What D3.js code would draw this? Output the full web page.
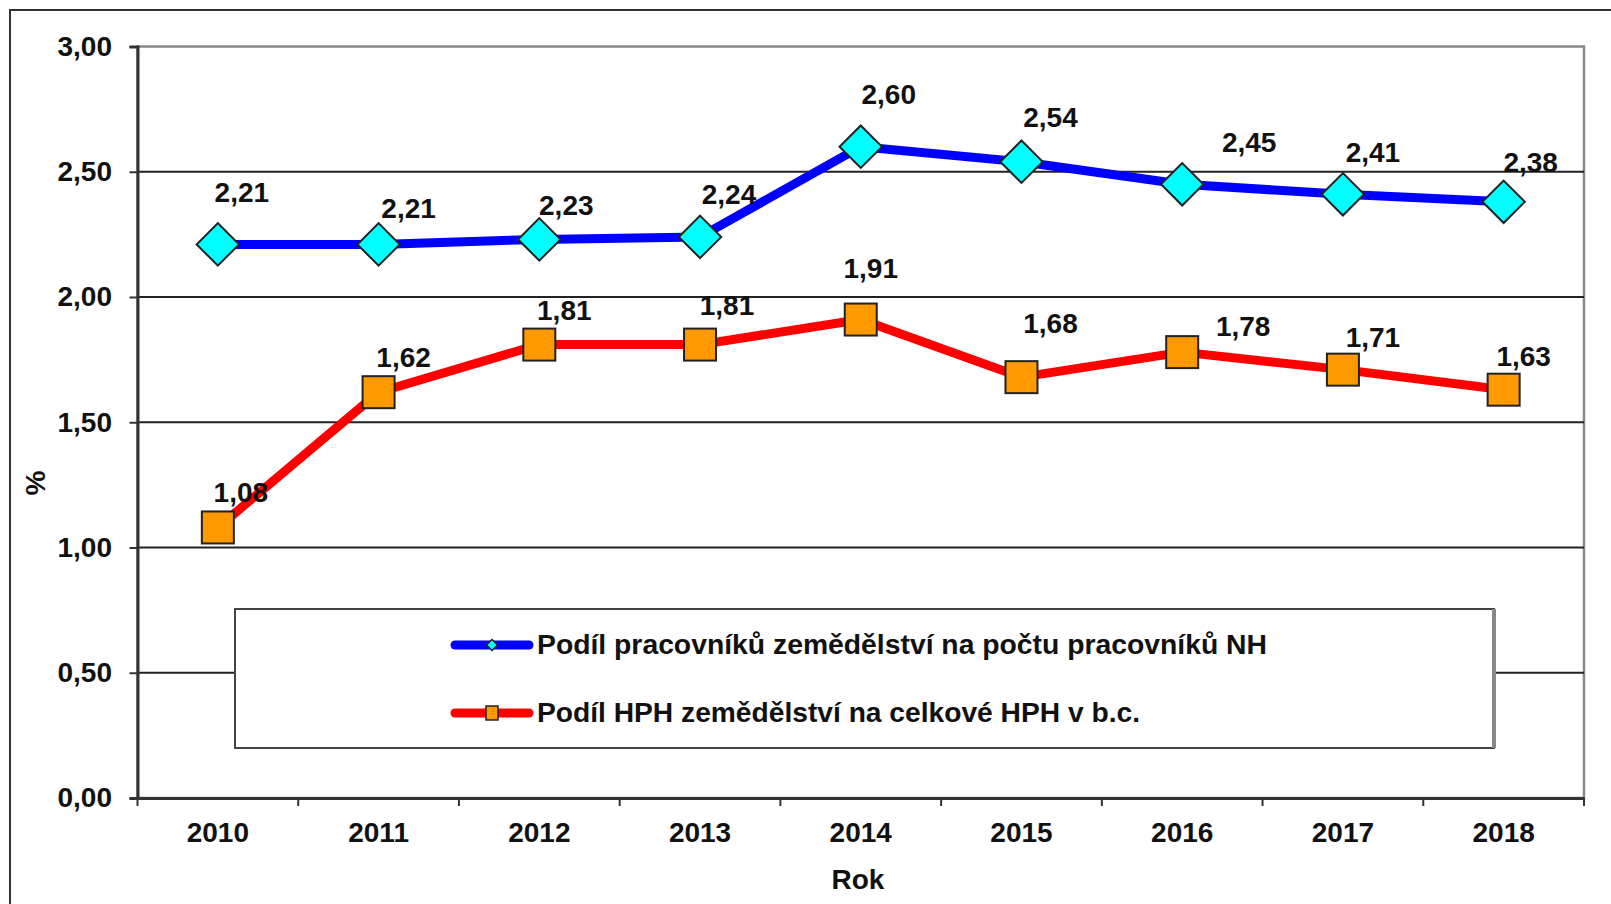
<!DOCTYPE html>
<html><head><meta charset="utf-8">
<script src="https://cdn.jsdelivr.net/npm/d3@7"></script>
<style>body{margin:0;background:#fff}svg{display:block}text{font-family:"Liberation Sans",Arial,sans-serif;font-weight:bold;fill:#111}</style>
</head><body><svg id="c" width="1611" height="904"></svg>
<script>
const years = ["2010","2011","2012","2013","2014","2015","2016","2017","2018"];
const workersShare = [2.21,2.21,2.23,2.24,2.60,2.54,2.45,2.41,2.38];
const gvaShare = [1.08,1.62,1.81,1.81,1.91,1.68,1.78,1.71,1.63];
const yTicks = [0,0.5,1,1.5,2,2.5,3];
const seriesNames = ["Podíl pracovníků zemědělství na počtu pracovníků NH","Podíl HPH zemědělství na celkové HPH v b.c."];
// label offsets relative to markers (layout only)
const blueLabelOff = [[24,-52],[30,-36],[27,-34],[29,-43],[28,-53],[29,-45],[67,-42],[30,-42],[27,-40]];
const redLabelOff = [[23,-35],[25,-35],[25,-35],[27,-40],[10,-52],[29,-54],[61,-26],[30,-33],[20,-34]];
const legendTextLen = [730,603];

const FS = "28px";
const svg = d3.select("#c");
const L=137.5, R=1584, T=46.5, B=798;
const x = d3.scaleBand().domain(years).range([L,R]);
const y = d3.scaleLinear().domain([0,3]).range([B,T]);
const fmt = v => d3.format(".2f")(v).replace(".",",");

// outer frame
svg.append("rect").attr("x",10).attr("y",10).attr("width",1640).attr("height",960)
  .attr("fill","none").attr("stroke","#333").attr("stroke-width",2);

// plot border
svg.append("rect").attr("x",L).attr("y",T).attr("width",R-L).attr("height",B-T)
  .attr("fill","none").attr("stroke","#888").attr("stroke-width",2.5);

// gridlines
svg.append("g").selectAll("line").data(yTicks.filter(d=>d>0&&d<3)).join("line")
  .attr("x1",L).attr("x2",R).attr("y1",d=>y(d)).attr("y2",d=>y(d))
  .attr("stroke","#222").attr("stroke-width",2);

// y axis
const ya = svg.append("g").attr("transform",`translate(${L},0)`)
  .call(d3.axisLeft(y).tickValues(yTicks).tickSize(8).tickPadding(17.5).tickFormat(fmt));
ya.select(".domain").attr("stroke","#333").attr("stroke-width",3);
ya.selectAll(".tick line").attr("stroke","#333").attr("stroke-width",2);
ya.selectAll("text").style("font-size",FS).attr("fill","#111");

// x axis
const xa = svg.append("g").attr("transform",`translate(0,${B})`)
  .call(d3.axisBottom(x).tickSize(0).tickPadding(24.5));
xa.select(".domain").attr("stroke","#333").attr("stroke-width",3);
xa.selectAll("text").style("font-size",FS).attr("fill","#111");
// boundary ticks
xa.append("g").selectAll("line").data(years.map((d,i)=>i).concat([years.length])).join("line")
  .attr("x1",i=>L+i*x.step()).attr("x2",i=>L+i*x.step()).attr("y1",0).attr("y2",8)
  .attr("stroke","#333").attr("stroke-width",2);

// axis titles
svg.append("text").attr("x",858).attr("y",889).attr("text-anchor","middle").style("font-size",FS).text("Rok");
svg.append("text").attr("transform","translate(45,483) rotate(-90)").attr("text-anchor","middle").style("font-size",FS).text("%");

// legend
const lg = svg.append("g");
lg.append("rect").attr("x",235).attr("y",609).attr("width",1494-235).attr("height",748-609)
  .attr("fill","#fff").attr("stroke","#444").attr("stroke-width",2);
lg.append("line").attr("x1",1494).attr("x2",1494).attr("y1",609).attr("y2",748).attr("stroke","#888").attr("stroke-width",4);
const legY=[645,713];
lg.append("line").attr("x1",455).attr("x2",529).attr("y1",legY[0]).attr("y2",legY[0]).attr("stroke","#0000ff").attr("stroke-width",9).attr("stroke-linecap","round");
lg.append("path").attr("d",d3.symbol(d3.symbolSquare,60)()).attr("transform",`translate(492,${legY[0]}) rotate(45)`).attr("fill","#00ffff").attr("stroke","#222").attr("stroke-width",1.5);
lg.append("line").attr("x1",455).attr("x2",529).attr("y1",legY[1]).attr("y2",legY[1]).attr("stroke","#ff0000").attr("stroke-width",9).attr("stroke-linecap","round");
lg.append("rect").attr("x",486).attr("y",legY[1]-7).attr("width",12).attr("height",14).attr("fill","#ff9900").attr("stroke","#222").attr("stroke-width",1.5);
lg.selectAll("text.lt").data(seriesNames).join("text").attr("class","lt")
  .attr("x",537).attr("y",(d,i)=>legY[i]+9).style("font-size","27px")
  .attr("textLength",(d,i)=>legendTextLen[i]).attr("lengthAdjust","spacingAndGlyphs").text(d=>d);

const cx = d => x(d)+x.bandwidth()/2;
const line = d3.line().x((d,i)=>cx(years[i])).y(d=>y(d));

// red series
svg.append("path").attr("d",line(gvaShare)).attr("fill","none").attr("stroke","#ff0000").attr("stroke-width",9).attr("stroke-linejoin","round");
svg.append("g").selectAll("rect").data(gvaShare).join("rect")
  .attr("x",(d,i)=>cx(years[i])-16).attr("y",d=>y(d)-16).attr("width",32).attr("height",32)
  .attr("fill","#ff9900").attr("stroke","#222").attr("stroke-width",2);

// blue series
svg.append("path").attr("d",line(workersShare)).attr("fill","none").attr("stroke","#0000ff").attr("stroke-width",9).attr("stroke-linejoin","round");
svg.append("g").selectAll("path").data(workersShare).join("path")
  .attr("d",d3.symbol(d3.symbolSquare,900)())
  .attr("transform",(d,i)=>`translate(${cx(years[i])},${y(d)}) rotate(45)`)
  .attr("fill","#00ffff").attr("stroke","#222").attr("stroke-width",2);

// labels
svg.append("g").selectAll("text").data(workersShare).join("text")
  .attr("x",(d,i)=>cx(years[i])+blueLabelOff[i][0]).attr("y",(d,i)=>y(d)+blueLabelOff[i][1]+10)
  .attr("text-anchor","middle").style("font-size",FS).text(fmt);
svg.append("g").selectAll("text").data(gvaShare).join("text")
  .attr("x",(d,i)=>cx(years[i])+redLabelOff[i][0]).attr("y",(d,i)=>y(d)+redLabelOff[i][1]+10)
  .attr("text-anchor","middle").style("font-size",FS).text(fmt);
</script></body></html>
